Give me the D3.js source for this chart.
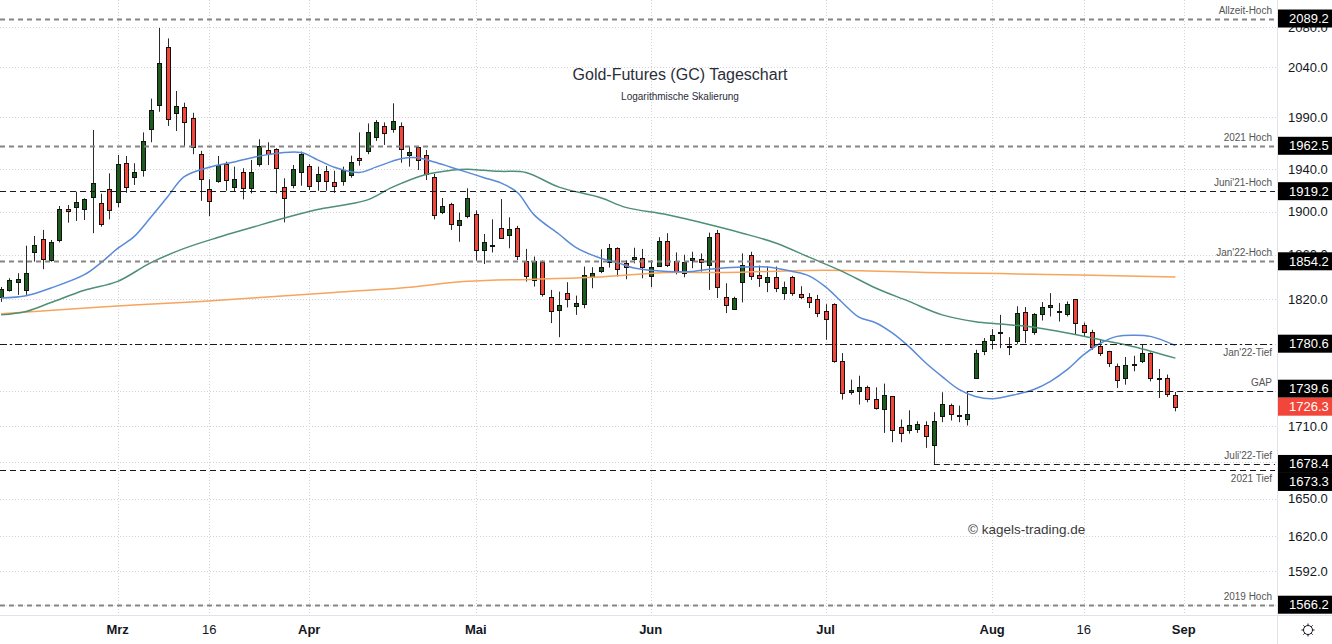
<!DOCTYPE html>
<html>
<head>
<meta charset="utf-8">
<script src="https://cdn.jsdelivr.net/npm/d3@7"></script>
<style>
  body { margin: 0; background: #fff; }
  svg { display: block; }
  text { font-family: "Liberation Sans", Arial, sans-serif; }
</style>
</head>
<body>
<div id="chart"></div>
<script>
// Handelstage (GC1!, täglich)
const dates = [
  "2022-02-08","2022-02-09","2022-02-10","2022-02-11","2022-02-14","2022-02-15","2022-02-16","2022-02-17","2022-02-18","2022-02-22","2022-02-23","2022-02-24","2022-02-25","2022-02-28",
  "2022-03-01","2022-03-02","2022-03-03","2022-03-04","2022-03-07","2022-03-08","2022-03-09","2022-03-10","2022-03-11","2022-03-14","2022-03-15","2022-03-16","2022-03-17","2022-03-18","2022-03-21","2022-03-22","2022-03-23","2022-03-24","2022-03-25","2022-03-28","2022-03-29","2022-03-30","2022-03-31",
  "2022-04-01","2022-04-04","2022-04-05","2022-04-06","2022-04-07","2022-04-08","2022-04-11","2022-04-12","2022-04-13","2022-04-14","2022-04-18","2022-04-19","2022-04-20","2022-04-21","2022-04-22","2022-04-25","2022-04-26","2022-04-27","2022-04-28","2022-04-29",
  "2022-05-02","2022-05-03","2022-05-04","2022-05-05","2022-05-06","2022-05-09","2022-05-10","2022-05-11","2022-05-12","2022-05-13","2022-05-16","2022-05-17","2022-05-18","2022-05-19","2022-05-20","2022-05-23","2022-05-24","2022-05-25","2022-05-26","2022-05-27","2022-05-31",
  "2022-06-01","2022-06-02","2022-06-03","2022-06-06","2022-06-07","2022-06-08","2022-06-09","2022-06-10","2022-06-13","2022-06-14","2022-06-15","2022-06-16","2022-06-17","2022-06-21","2022-06-22","2022-06-23","2022-06-24","2022-06-27","2022-06-28","2022-06-29","2022-06-30",
  "2022-07-01","2022-07-05","2022-07-06","2022-07-07","2022-07-08","2022-07-11","2022-07-12","2022-07-13","2022-07-14","2022-07-15","2022-07-18","2022-07-19","2022-07-20","2022-07-21","2022-07-22","2022-07-25","2022-07-26","2022-07-27","2022-07-28","2022-07-29",
  "2022-08-01","2022-08-02","2022-08-03","2022-08-04","2022-08-05","2022-08-08","2022-08-09","2022-08-10","2022-08-11","2022-08-12","2022-08-15","2022-08-16","2022-08-17","2022-08-18","2022-08-19","2022-08-22","2022-08-23","2022-08-24","2022-08-25","2022-08-26","2022-08-29","2022-08-30","2022-08-31"
];

const open = [
  1821.5,1828.3,1835.5,1828.3,1863.0,1874.6,1855.5,1873.7,1902.1,1904.4,1902.1,1913.6,1908.4,1921.5,
  1909.0,1945.7,1932.4,1939.3,1978.8,2002.0,2060.4,1994.0,2000.5,1989.8,1954.7,1920.9,1928.9,1945.0,1923.1,1937.2,1921.9,1945.0,1958.8,1959.5,1922.8,1924.6,1937.6,
  1943.4,1929.1,1938.3,1928.2,1928.9,1934.7,1950.5,1957.6,1971.4,1982.0,1978.8,1982.0,1953.7,1961.1,1953.7,1933.0,1899.8,1907.3,1887.6,1896.0,
  1897.7,1864.6,1868.5,1884.5,1878.4,1884.5,1854.8,1837.3,1853.9,1822.0,1810.3,1825.4,1813.6,1816.0,1839.7,1845.5,1853.9,1866.1,1853.0,1855.9,1856.8,
  1840.4,1850.3,1872.8,1854.8,1844.0,1855.4,1855.9,1850.6,1880.0,1821.7,1810.9,1835.8,1860.0,1841.7,1835.2,1840.3,1825.3,1839.7,1824.5,1821.8,1820.0,
  1809.0,1815.5,1765.7,1738.5,1739.3,1742.8,1732.9,1724.4,1735.1,1709.2,1707.0,1707.8,1710.6,1694.4,1718.7,1727.4,1718.9,1716.2,1750.8,1774.1,
  1783.4,1790.8,1778.5,1782.6,1808.5,1791.3,1806.7,1812.6,1809.6,1806.7,1820.0,1797.2,1791.3,1778.2,1773.8,1761.4,1750.8,1761.9,1765.1,1772.4,1750.5,1750.8,1736.5
];
const high = [
  1830.9,1838.8,1843.4,1868.5,1877.4,1883.0,1873.7,1905.3,1906.2,1918.7,1912.5,1977.8,1916.8,1936.1,
  1953.7,1952.7,1945.7,1975.5,2008.5,2079.5,2068.9,2016.1,2004.5,1994.6,1957.6,1930.5,1952.7,1947.3,1942.5,1941.0,1948.9,1968.8,1965.9,1960.1,1931.4,1944.1,1956.9,
  1945.0,1942.5,1943.1,1938.6,1942.5,1953.0,1975.5,1984.2,1987.5,1985.2,2003.9,1985.2,1961.7,1961.7,1958.5,1935.6,1912.8,1908.3,1899.2,1921.9,
  1901.1,1879.3,1892.8,1911.8,1894.7,1886.7,1865.5,1858.5,1854.8,1828.3,1826.8,1835.2,1823.2,1849.4,1848.8,1865.2,1870.0,1867.0,1855.1,1866.6,1865.5,
  1855.1,1876.3,1880.0,1862.3,1860.2,1862.9,1861.4,1880.5,1883.0,1834.3,1822.2,1861.4,1862.9,1850.3,1849.4,1849.4,1835.8,1840.9,1831.6,1825.4,1823.8,
  1815.5,1816.3,1772.4,1749.4,1752.8,1744.3,1742.8,1746.0,1735.1,1715.4,1723.2,1714.0,1714.0,1721.6,1738.6,1728.9,1727.2,1739.6,1775.3,1785.5,
  1793.4,1806.0,1786.3,1813.6,1813.0,1807.6,1817.4,1825.4,1816.6,1818.0,1820.0,1799.2,1792.8,1784.6,1774.4,1763.2,1769.0,1770.1,1779.6,1773.0,1758.6,1753.8,1738.8
];
const low = [
  1817.6,1826.8,1823.8,1823.8,1853.9,1847.0,1853.9,1871.5,1889.7,1891.3,1892.2,1880.0,1886.0,1892.8,
  1904.1,1917.7,1925.1,1933.0,1965.9,1995.6,1981.7,1976.8,1961.7,1954.4,1910.1,1895.9,1927.2,1919.6,1918.7,1911.5,1917.1,1942.5,1944.0,1917.1,1890.0,1921.9,1924.4,
  1920.3,1919.6,1919.6,1917.7,1924.4,1932.0,1943.4,1954.4,1967.2,1963.3,1975.2,1946.2,1942.5,1939.3,1929.8,1892.8,1897.7,1883.0,1872.1,1893.8,
  1854.8,1851.8,1862.2,1874.6,1866.1,1855.4,1835.8,1831.3,1822.3,1798.7,1786.3,1812.6,1806.0,1811.9,1829.8,1843.4,1848.5,1840.4,1837.9,1852.3,1838.8,
  1830.7,1849.0,1849.0,1842.3,1839.7,1847.9,1844.8,1828.3,1821.0,1807.6,1810.3,1817.1,1837.3,1831.0,1826.3,1826.3,1819.4,1823.0,1820.3,1812.0,1804.0,
  1784.0,1764.0,1732.3,1736.5,1728.1,1730.0,1723.8,1704.2,1696.4,1696.4,1703.6,1704.2,1691.7,1678.4,1713.2,1714.6,1713.2,1710.4,1750.8,1770.6,
  1775.6,1776.7,1770.6,1780.5,1781.1,1788.4,1801.0,1804.6,1800.1,1804.6,1788.4,1786.9,1775.3,1769.9,1760.3,1742.3,1745.1,1756.6,1763.7,1747.9,1733.7,1734.6,1722.4
];
const close = [
  1829.0,1837.3,1838.0,1843.4,1869.4,1856.4,1872.1,1902.4,1900.5,1909.3,1911.5,1927.2,1888.7,1901.5,
  1944.7,1923.4,1937.2,1967.4,1997.3,2043.8,1988.7,2001.2,1985.6,1961.7,1930.5,1909.6,1944.1,1929.5,1930.5,1922.5,1937.8,1962.7,1954.7,1941.1,1913.0,1940.0,1954.7,
  1924.4,1935.4,1929.1,1924.4,1938.9,1946.7,1948.6,1976.1,1985.2,1975.2,1986.8,1959.2,1956.3,1948.9,1935.6,1896.5,1905.3,1888.4,1892.2,1912.7,
  1864.6,1871.5,1869.5,1875.9,1884.0,1859.1,1841.1,1854.8,1824.7,1809.0,1814.7,1820.0,1816.6,1841.4,1843.4,1848.8,1866.1,1847.0,1849.4,1857.8,1848.8,
  1849.4,1872.8,1850.6,1844.3,1853.7,1856.8,1853.7,1876.3,1831.3,1814.5,1820.6,1850.6,1841.1,1839.3,1839.7,1830.4,1830.7,1825.9,1821.8,1817.9,1807.6,
  1802.5,1765.7,1738.0,1740.8,1743.1,1732.9,1725.3,1736.5,1707.0,1704.2,1711.2,1712.0,1701.4,1714.6,1728.9,1720.2,1718.7,1720.2,1772.7,1782.6,
  1788.4,1791.0,1778.2,1808.1,1792.2,1806.7,1813.0,1815.1,1808.9,1816.0,1798.7,1790.8,1777.3,1772.4,1763.7,1749.4,1762.3,1762.6,1772.4,1750.8,1749.9,1737.1,1726.3
];

// gleitende Durchschnitte: [Bar-Index, Wert]
const sma20 = [[0,1821],[3,1823],[6,1830],[10,1842],[12,1853],[14,1866],[16,1877],[18,1895],[20,1914],[22,1933],[25,1942],[28,1947],[32,1954],[36,1956],[38,1949],[40,1942],[43,1937],[45,1942],[48,1950],[50,1951],[52,1947],[54,1942],[56,1937],[58,1932],[60,1927],[62,1918],[64,1897],[67,1879],[69,1867],[72,1857],[74,1853],[76,1848],[80,1845],[83,1845],[85,1847],[89,1849],[92,1849],[95,1845],[97,1841],[99,1831],[101,1817],[103,1804],[105,1799],[107,1790],[109,1778],[111,1764],[113,1752],[115,1741],[117,1735],[119,1733],[122,1737],[124,1741],[126,1748],[128,1758],[130,1771],[132,1781],[134,1787],[136,1788],[138,1787],[141,1779]];
const sma50 = [[0,1806],[3,1809],[6,1817],[10,1828],[14,1836],[18,1853],[22,1866],[26,1876],[30,1885],[34,1894],[38,1902],[41,1906],[44,1911],[47,1923],[51,1935],[54,1939],[56,1940],[58,1939],[60,1938],[63,1937],[67,1923],[72,1913],[75,1904],[80,1897],[85,1888],[89,1880],[93,1871],[97,1858],[101,1845],[105,1830],[109,1818],[113,1806],[117,1800],[120,1798],[124,1795],[128,1790],[132,1784],[136,1778],[141,1768]];
const sma200 = [[0,1807],[12,1813],[24,1818],[40,1826],[48,1830],[56,1836],[64,1838],[72,1840],[80,1844],[87,1844],[99,1846],[111,1844],[120,1843],[141,1840]];

const priceTicks = [2080, 2040, 1990, 1940, 1900, 1860, 1820, 1780, 1740, 1710, 1680, 1650, 1620, 1592, 1566];
const dateTicks = ["2022-03-01","2022-03-16","2022-04-01","2022-05-02","2022-06-01","2022-07-01","2022-08-01","2022-08-16","2022-09-01"];
const dateTickLabels = ["Mrz","16","Apr","Mai","Jun","Jul","Aug","16","Sep"];

const refValues = [2089.2, 1962.5, 1919.2, 1854.2, 1780.6, 1739.6, 1678.4, 1673.3, 1566.2];
const refLabels = ["Allzeit-Hoch","2021 Hoch","Juni'21-Hoch","Jan'22-Hoch","Jan'22-Tief","GAP","Juli'22-Tief","2021 Tief","2019 Hoch"];
const refFrom   = [null, null, null, null, null, "2022-07-27", "2022-07-21", null, null];
const lastPrice = 1726.3;

// ---------------------------------------------------------------
const W = 1332, H = 644, plotW = 1277, plotH = 615;
const UP = "#1d5c1f", DOWN = "#f2463a";

const idx = d => { const k = dates.indexOf(d); return k < 0 ? dates.length : k; };

const x = d3.scaleLinear().domain([-0.13, 153.2]).range([0, plotW]);
const y = d3.scaleLog().domain([1558.3, 2108.3]).range([plotH, 0]);

const svg = d3.select("#chart").append("svg")
    .attr("width", W).attr("height", H)
    .attr("viewBox", `0 0 ${W} ${H}`);

svg.append("rect").attr("width", W).attr("height", H).attr("fill", "#fff");

svg.append("defs").append("clipPath").attr("id", "plot")
  .append("rect").attr("width", plotW).attr("height", plotH);

// Gitter
const grid = svg.append("g").attr("stroke", "#cfd2d8").attr("stroke-width", 1).attr("stroke-dasharray", "1,2");
grid.selectAll("line.h").data(priceTicks).join("line")
    .attr("x1", 0).attr("x2", plotW)
    .attr("y1", d => Math.round(y(d)) + 0.5).attr("y2", d => Math.round(y(d)) + 0.5);
grid.selectAll("line.v").data(dateTicks).join("line")
    .attr("y1", 0).attr("y2", plotH)
    .attr("x1", d => Math.round(x(idx(d))) + 0.5).attr("x2", d => Math.round(x(idx(d))) + 0.5);

// Titel
svg.append("text").attr("x", 680).attr("y", 80).attr("text-anchor", "middle")
    .attr("font-size", 16).attr("fill", "#2a2e39").text("Gold-Futures (GC) Tageschart");
svg.append("text").attr("x", 680).attr("y", 100).attr("text-anchor", "middle")
    .attr("font-size", 10).attr("fill", "#2a2e39").text("Logarithmische Skalierung");
svg.append("text").attr("x", 968).attr("y", 534)
    .attr("font-size", 13.5).attr("fill", "#3a3a3a").text("© kagels-trading.de");

const plot = svg.append("g").attr("clip-path", "url(#plot)");

// Kerzen
const bars = dates.map((d, i) => ({ i, o: open[i], h: high[i], l: low[i], c: close[i] }));
const cx = d => Math.round(x(d.i));

plot.append("g").attr("stroke", "#2b2b2b").attr("stroke-width", 1)
  .selectAll("line").data(bars).join("line")
    .attr("x1", d => cx(d) + 0.5).attr("x2", d => cx(d) + 0.5)
    .attr("y1", d => y(d.h)).attr("y2", d => y(d.l));

plot.append("g").attr("stroke", "#111").attr("stroke-width", 1)
  .selectAll("rect").data(bars).join("rect")
    .attr("x", d => cx(d) - 1.5)
    .attr("width", 4)
    .attr("y", d => Math.round(y(Math.max(d.o, d.c))) + 0.5)
    .attr("height", d => Math.max(1, Math.round(y(Math.min(d.o, d.c))) - Math.round(y(Math.max(d.o, d.c)))))
    .attr("fill", d => d.c >= d.o ? UP : DOWN);

// Durchschnitte
const ma = d3.line().x(d => x(d[0])).y(d => y(d[1])).curve(d3.curveCatmullRom.alpha(0.5));
plot.append("path").datum(sma200).attr("d", ma).attr("fill", "none").attr("stroke", "#f7a45c").attr("stroke-width", 1.5);
plot.append("path").datum(sma50).attr("d", ma).attr("fill", "none").attr("stroke", "#4e8f76").attr("stroke-width", 1.5);
plot.append("path").datum(sma20).attr("d", ma).attr("fill", "none").attr("stroke", "#5a8ad8").attr("stroke-width", 1.5);

// Markierungslinien
const refStyle = ["gray","gray","black","gray","dashdot","black","black","black","gray"];
const refs = refValues.map((v, k) => ({ v, label: refLabels[k], from: refFrom[k], style: refStyle[k] }));
svg.append("g").selectAll("line").data(refs).join("line")
    .attr("x1", d => d.from ? x(idx(d.from)) : 0).attr("x2", plotW - 2)
    .attr("y1", d => Math.round(y(d.v)) + 0.5).attr("y2", d => Math.round(y(d.v)) + 0.5)
    .attr("stroke", d => d.style === "gray" ? "#858585" : "#1a1a1a")
    .attr("stroke-width", d => d.style === "gray" ? 2 : 1)
    .attr("stroke-dasharray", d => d.style === "dashdot" ? "7,3,2,3" : d.style === "gray" ? "5,4" : "6,4");

const below = new Set(["Jan'22-Tief", "2021 Tief"]);
svg.append("g").attr("font-size", 10).attr("fill", "#555").attr("text-anchor", "end")
  .selectAll("text").data(refs).join("text")
    .attr("x", 1272)
    .attr("y", d => below.has(d.label) ? y(d.v) + 12 : y(d.v) - 5)
    .text(d => d.label);

// Achsen
svg.append("line").attr("x1", plotW + 0.5).attr("x2", plotW + 0.5).attr("y1", 0).attr("y2", H).attr("stroke", "#e0e3eb");
svg.append("line").attr("x1", 0).attr("x2", W).attr("y1", plotH + 0.5).attr("y2", plotH + 0.5).attr("stroke", "#e0e3eb");

svg.append("g").attr("font-size", 13).attr("fill", "#131722")
  .selectAll("text").data(priceTicks).join("text")
    .attr("x", 1288).attr("y", d => y(d)).attr("dy", "0.35em")
    .text(d3.format(".1f"));

svg.append("g").attr("font-size", 13).attr("fill", "#131722").attr("text-anchor", "middle")
  .selectAll("text").data(dateTicks).join("text")
    .attr("x", d => x(idx(d))).attr("y", 634)
    .attr("font-weight", (d, k) => /\d/.test(dateTickLabels[k]) ? "normal" : "bold")
    .text((d, k) => dateTickLabels[k]);

// Preisschilder
const tags = refValues.map(v => ({ v, y: y(v), fill: "#000", fixed: false }));
tags.push({ v: lastPrice, y: y(lastPrice), fill: DOWN, fixed: true });
tags.sort((a, b) => a.y - b.y);
for (let k = 1; k < tags.length; k++) {
  if (tags[k].y - tags[k - 1].y < 18) {
    if (tags[k].fixed) tags[k - 1].y = tags[k].y - 18;
    else tags[k].y = tags[k - 1].y + 18;
  }
}
const tag = svg.append("g").selectAll("g").data(tags).join("g")
    .attr("transform", d => `translate(${plotW + 1},${d.y - 9})`);
tag.append("rect").attr("width", W - plotW - 1).attr("height", 18).attr("fill", d => d.fill);
tag.append("text").attr("x", 11).attr("y", 9).attr("dy", "0.35em")
    .attr("font-size", 13).attr("fill", "#fff").text(d => d3.format(".1f")(d.v));

// Zahnrad
const gear = svg.append("g").attr("transform", "translate(1308,630)")
    .attr("stroke", "#131722").attr("fill", "none").attr("stroke-width", 1);
gear.append("circle").attr("r", 4.5);
gear.selectAll("line").data(d3.range(8)).join("line")
    .attr("x1", d => 4.5 * Math.cos(d * Math.PI / 4)).attr("y1", d => 4.5 * Math.sin(d * Math.PI / 4))
    .attr("x2", d => 6.5 * Math.cos(d * Math.PI / 4)).attr("y2", d => 6.5 * Math.sin(d * Math.PI / 4));
</script>
</body>
</html>
